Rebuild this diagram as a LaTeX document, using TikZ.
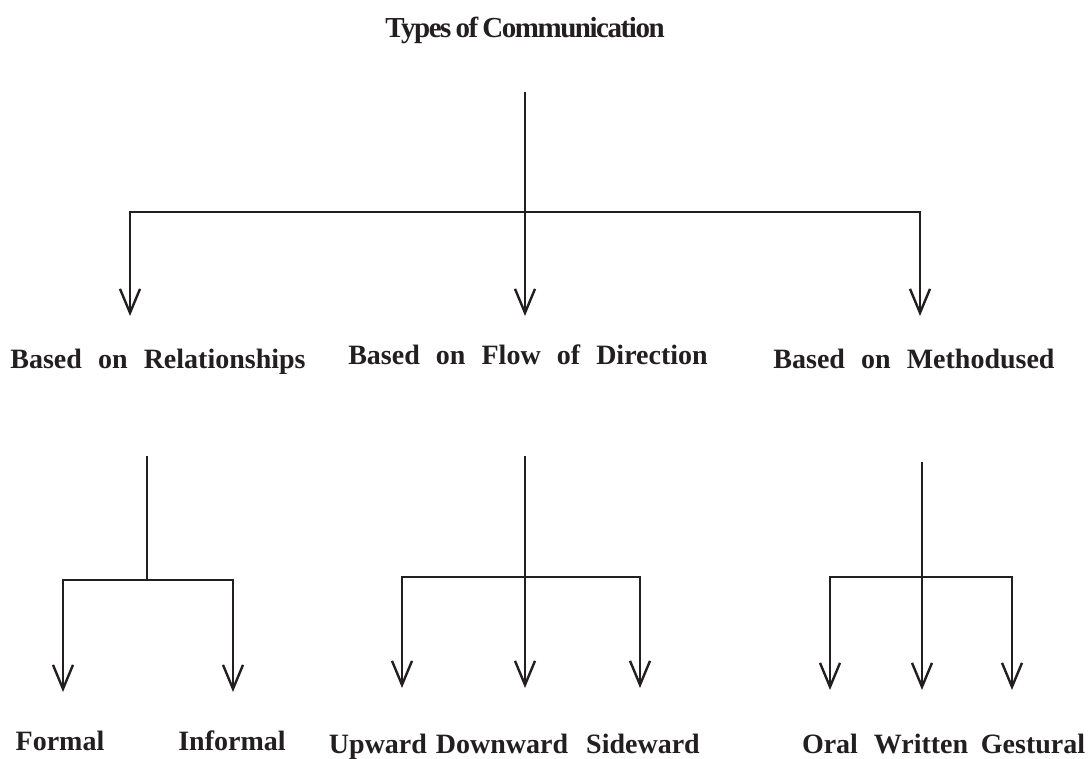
\documentclass[tikz,border=0pt]{standalone}
\usepackage{fontspec}
\usetikzlibrary{arrows.meta}
\setmainfont{Liberation Serif}
\newfontfamily\lblfont{Liberation Serif}[WordSpace=2.3]
\newfontfamily\ttlfont{Liberation Serif}[LetterSpace=-5,WordSpace=0.7]
\definecolor{ink}{HTML}{231F20}
\tikzset{
  lbl/.style={font={\lblfont\bfseries\fontsize{28}{30}\selectfont}, text=ink, inner sep=0pt, anchor=base},
  ttl/.style={font={\ttlfont\bfseries\fontsize{29}{31}\selectfont}, text=ink, inner sep=0pt, anchor=base},
  ln/.style={draw=ink, line width=2.4pt},
  arr/.style={ln, -{Straight Barb[length=24pt,width=20pt]}}
}

\begin{document}
\begin{tikzpicture}[x=1pt,y=-1pt]
    \useasboundingbox (0,0) rectangle (1090,759);

    % Title
    \node[ttl] (types) at (525,38) {Types of Communication};

    % First level
    \node[lbl] (rel) at (158,368) {Based on Relationships};
    \node[lbl] (flow) at (528,365) {Based on Flow of Direction};
    \node[lbl] (meth) at (914,368) {Based on Methodused};

    % Second level
    \node[lbl] (formal) at (60,750) {Formal};
    \node[lbl] (informal) at (232,750) {Informal};
    \node[lbl] (upward) at (378,753) {Upward};
    \node[lbl] (downward) at (502,753) {Downward};
    \node[lbl] (sideward) at (643,753) {Sideward};
    \node[lbl] (oral) at (830,753) {Oral};
    \node[lbl] (written) at (921,753) {Written};
    \node[lbl] (gestural) at (1033,753) {Gestural};

    % Ends of the connectors
    \coordinate (typesTop) at (525,92);
    \coordinate (typesHub) at (525,212);
    \coordinate (relTip) at (130,316);
    \coordinate (flowTip) at (525,316);
    \coordinate (methTip) at (920,316);

    \coordinate (relTop) at (147,456);
    \coordinate (relHub) at (147,580);
    \coordinate (formalTip) at (63,692);
    \coordinate (informalTip) at (233,692);

    \coordinate (flowTop) at (525,456);
    \coordinate (flowHub) at (525,577);
    \coordinate (upwardTip) at (402,688);
    \coordinate (downwardTip) at (525,688);
    \coordinate (sidewardTip) at (640,688);

    \coordinate (methTop) at (922,462);
    \coordinate (methHub) at (922,577);
    \coordinate (oralTip) at (830,690);
    \coordinate (writtenTip) at (922,690);
    \coordinate (gesturalTip) at (1012,690);

    % Title to first level
    \draw[ln] (typesTop) -- (typesHub);
    \draw[arr] (typesHub) -| (relTip);
    \draw[arr] (typesHub) -- (flowTip);
    \draw[arr] (typesHub) -| (methTip);

    % Relationships
    \draw[ln] (relTop) -- (relHub);
    \draw[arr] (relHub) -| (formalTip);
    \draw[arr] (relHub) -| (informalTip);

    % Flow of direction
    \draw[ln] (flowTop) -- (flowHub);
    \draw[arr] (flowHub) -| (upwardTip);
    \draw[arr] (flowHub) -- (downwardTip);
    \draw[arr] (flowHub) -| (sidewardTip);

    % Method used
    \draw[ln] (methTop) -- (methHub);
    \draw[arr] (methHub) -| (oralTip);
    \draw[arr] (methHub) -- (writtenTip);
    \draw[arr] (methHub) -| (gesturalTip);
\end{tikzpicture}
\end{document}
